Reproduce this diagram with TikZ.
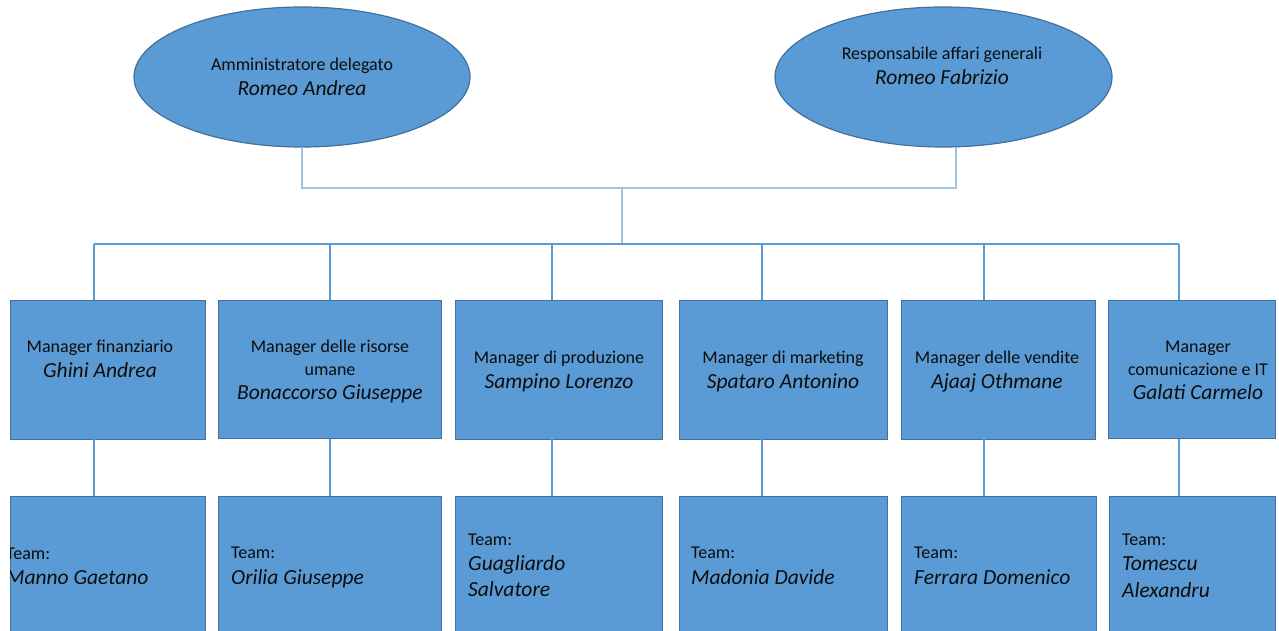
\documentclass[tikz,border=0pt]{standalone}
\usepackage{fontspec}
\setmainfont{Carlito}
\usetikzlibrary{shapes.geometric}
\definecolor{boxfill}{HTML}{5B9BD5}
\definecolor{boxline}{HTML}{41719C}
\definecolor{upline}{HTML}{9DC3E6}
\definecolor{lowline}{HTML}{5B9BD5}
\definecolor{txt}{HTML}{0D0D0D}
\tikzset{
  boss/.style={ellipse, draw=boxline, fill=boxfill, line width=1.2pt, inner sep=0pt},
  unit/.style={rectangle, draw=boxline, fill=boxfill, line width=1.4pt, inner sep=0pt, anchor=north west},
  role/.style={anchor=base, inner sep=0pt, text=txt, font=\fontsize{18}{22}\selectfont},
  who/.style={anchor=base, inner sep=0pt, text=txt, font=\fontsize{21.5}{25}\selectfont\itshape},
  roleL/.style={role, anchor=base west},
  whoL/.style={who, anchor=base west},
  upcon/.style={draw=upline, line width=2pt},
  lowcon/.style={draw=lowline, line width=1.6pt},
}
\begin{document}
\begin{tikzpicture}[x=1pt,y=-1pt]
\clip (0,0) rectangle (1279,631);
\fill[white] (0,0) rectangle (1279,631);
% top ellipses
\node[boss, minimum width=336pt, minimum height=140pt] (ad) at (302,77) {};
\node[boss, minimum width=337pt, minimum height=140pt] (rag) at (943.5,77) {};
\node[role] (adr) at (302,71) {Amministratore delegato};
\node[who] (adn) at (302,96) {Romeo Andrea};
\node[role] (ragr) at (942,60) {Responsabile affari generali};
\node[who] (ragn) at (942,85) {Romeo Fabrizio};
% connectors top
\coordinate (j1) at (302,188);
\coordinate (j2) at (956,188);
\coordinate (jm) at (622,188);
\coordinate (jb) at (622,244);
\draw[upcon] (302,147) |- (jm) -| (956,147);
\draw[upcon] (jm) -- (jb);
% manager boxes
\node[unit, minimum width=195pt, minimum height=139pt] (m1) at (10,300) {};
\node[unit, minimum width=223pt, minimum height=138pt] (m2) at (218,300) {};
\node[unit, minimum width=207pt, minimum height=139pt] (m3) at (455,300) {};
\node[unit, minimum width=208pt, minimum height=139pt] (m4) at (679,300) {};
\node[unit, minimum width=194pt, minimum height=139pt] (m5) at (901,300) {};
\node[unit, minimum width=167pt, minimum height=138pt] (m6) at (1108,300) {};
% team boxes
\node[unit, minimum width=195pt, minimum height=160pt] (t1) at (10,496) {};
\node[unit, minimum width=223pt, minimum height=160pt] (t2) at (218,496) {};
\node[unit, minimum width=207pt, minimum height=160pt] (t3) at (455,496) {};
\node[unit, minimum width=208pt, minimum height=160pt] (t4) at (679,496) {};
\node[unit, minimum width=195pt, minimum height=160pt] (t5) at (901,496) {};
\node[unit, minimum width=166pt, minimum height=160pt] (t6) at (1109,496) {};
% distribution line
\draw[lowcon] (94,244) -- (1179,244);
\foreach \x in {94, 330, 552, 762, 984, 1179}{
  \draw[lowcon] (\x,244) -- (\x,300);
  \draw[lowcon] (\x,439) -- (\x,496);
}
% manager texts
\node[role] (m1r) at (100,352) {Manager finanziario};
\node[who] (m1n) at (100,377) {Ghini Andrea};
\node[role] (m2r) at (330,352) {Manager delle risorse};
\node[role] (m2s) at (330,375) {umane};
\node[who] (m2n) at (330,399) {Bonaccorso Giuseppe};
\node[role] (m3r) at (559,363) {Manager di produzione};
\node[who] (m3n) at (559,388) {Sampino Lorenzo};
\node[role] (m4r) at (783,363) {Manager di marketing};
\node[who] (m4n) at (783,388) {Spataro Antonino};
\node[role] (m5r) at (997,363) {Manager delle vendite};
\node[who] (m5n) at (997,388) {Ajaaj Othmane};
\node[role] (m6r) at (1198,352) {Manager};
\node[role] (m6s) at (1198,375) {comunicazione e IT};
\node[who] (m6n) at (1198,399) {Galati Carmelo};
% team texts
\begin{scope}
\clip (10,496) rectangle (205,640);
\node[roleL] (t1r) at (6,559) {Team:};
\node[whoL] (t1n) at (6,584) {Manno Gaetano};
\end{scope}
\node[roleL] (t2r) at (231,558) {Team:};
\node[whoL] (t2n) at (231,584) {Orilia Giuseppe};
\node[roleL] (t3r) at (468,545) {Team:};
\node[whoL] (t3n) at (468,570) {Guagliardo};
\node[whoL] (t3m) at (468,596) {Salvatore};
\node[roleL] (t4r) at (691,558) {Team:};
\node[whoL] (t4n) at (691,584) {Madonia Davide};
\node[roleL] (t5r) at (914,558) {Team:};
\node[whoL] (t5n) at (914,584) {Ferrara Domenico};
\node[roleL] (t6r) at (1122,545) {Team:};
\node[whoL] (t6n) at (1122,570) {Tomescu};
\node[whoL] (t6m) at (1122,597) {Alexandru};
\end{tikzpicture}
\end{document}
